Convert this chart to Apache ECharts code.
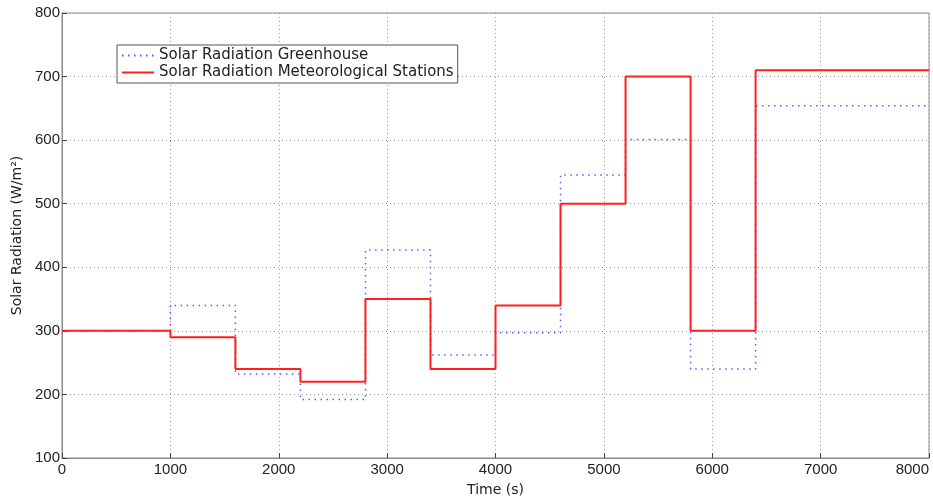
<!DOCTYPE html>
<html>
<head>
<meta charset="utf-8">
<script src="https://cdn.jsdelivr.net/npm/echarts@6/dist/echarts.min.js"></script>
<style>
  html, body { margin: 0; padding: 0; background: #fff; }
  #chart { width: 933px; height: 497px; }
</style>
</head>
<body>
<div id="chart"></div>
<script>
// step start times (s) and values (W/m2), last point closes the final step
var times = [0, 1000, 1600, 2200, 2800, 3400, 4000, 4600, 5200, 5800, 6400, 8000];
var meteo = [300, 290, 240, 220, 350, 240, 340, 500, 700, 300, 710, 710];
var greenhouse = [300, 340, 232, 192, 427, 262, 297, 545, 601, 240, 654, 654];

function pairs(xs, ys) {
  return xs.map(function (x, i) { return [x, ys[i]]; });
}

var chart = echarts.init(document.getElementById('chart'));

var tickFont = { fontFamily: 'Liberation Sans', fontSize: 15, color: '#222', formatter: function (v) { return String(v); } };
var dotted = { show: true, lineStyle: { type: [1, 3], color: '#999', width: 1 } };
var axisGray = '#8a8a8a';

var option = {
  animation: false,
  grid: {
    left: 62, right: 4, top: 13, bottom: 39,
    outerBoundsMode: 'none', containLabel: false,
    show: true, borderColor: axisGray, borderWidth: 1
  },
  legend: {
    orient: 'vertical',
    left: 117,
    top: 45,
    padding: [3, 4, 3, 4],
    itemGap: 2,
    itemWidth: 32,
    itemHeight: 12,
    borderColor: '#555',
    borderWidth: 1,
    backgroundColor: '#fff',
    itemStyle: { opacity: 0 },
    textStyle: { fontFamily: 'DejaVu Sans', fontSize: 15, color: '#222' },
    data: ['Solar Radiation Greenhouse', 'Solar Radiation Meteorological Stations']
  },
  xAxis: {
    type: 'value',
    min: 0, max: 8000, interval: 1000,
    name: 'Time (s)',
    nameLocation: 'middle',
    nameGap: 25,
    nameTextStyle: { fontFamily: 'DejaVu Sans', fontSize: 14, color: '#222' },
    axisLine: { show: true, lineStyle: { color: axisGray } },
    axisTick: { show: true, inside: true, length: 5, lineStyle: { color: '#444' } },
    axisLabel: Object.assign({ margin: 4, alignMaxLabel: 'right' }, tickFont),
    splitLine: dotted
  },
  yAxis: {
    type: 'value',
    min: 100, max: 800, interval: 100,
    name: 'Solar Radiation (W/m²)',
    nameLocation: 'middle',
    nameGap: 35,
    nameTextStyle: { fontFamily: 'DejaVu Sans', fontSize: 14, color: '#222' },
    axisLine: { show: true, lineStyle: { color: axisGray } },
    axisTick: { show: true, inside: true, length: 5, lineStyle: { color: '#444' } },
    axisLabel: Object.assign({ margin: 2 }, tickFont),
    splitLine: dotted
  },
  series: [
    {
      name: 'Solar Radiation Greenhouse',
      type: 'line',
      step: 'end',
      symbol: 'none',
      z: 2,
      lineStyle: { color: '#5a5aff', width: 1.5, type: [1.5, 4.5] },
      itemStyle: { color: '#5a5aff' },
      data: pairs(times, greenhouse)
    },
    {
      name: 'Solar Radiation Meteorological Stations',
      type: 'line',
      step: 'end',
      symbol: 'none',
      z: 3,
      lineStyle: { color: '#ff2020', width: 2 },
      itemStyle: { color: '#ff2020' },
      data: pairs(times, meteo)
    }
  ]
};

chart.setOption(option);
</script>
</body>
</html>
